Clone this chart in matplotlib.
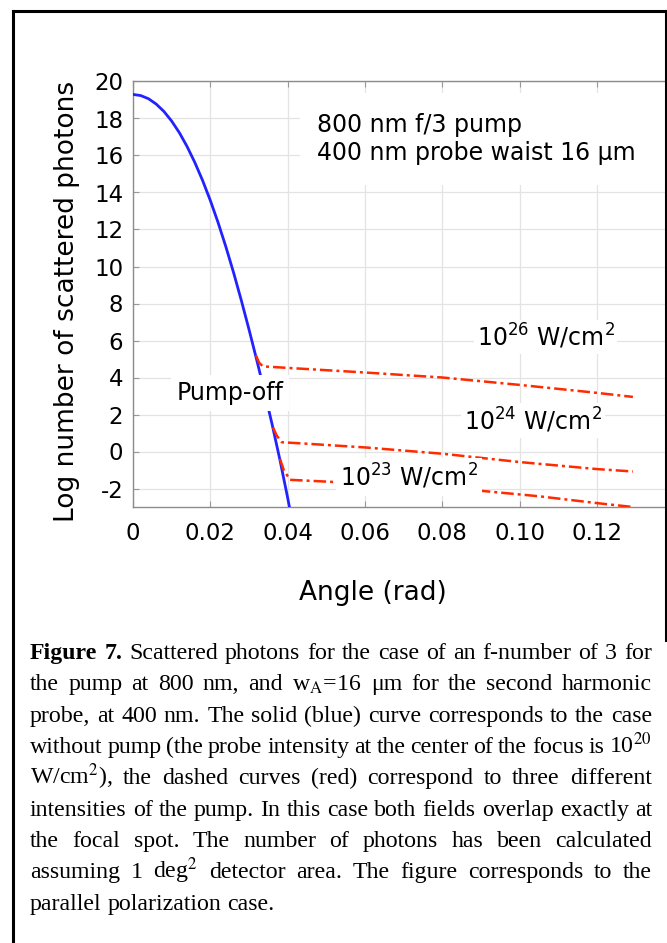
import matplotlib.pyplot as plt
from matplotlib.patches import Rectangle
from matplotlib.lines import Line2D

# blue: no pump
blue_x = [0, 0.002, 0.004, 0.006, 0.008, 0.010, 0.012, 0.014, 0.016, 0.018, 0.020,
          0.022, 0.024, 0.026, 0.028, 0.030, 0.032, 0.034, 0.036, 0.038, 0.040, 0.042]
blue_y = [19.30, 19.24, 19.07, 18.78, 18.38, 17.86, 17.23, 16.48, 15.62, 14.65, 13.57,
          12.38, 11.08, 9.68, 8.18, 6.60, 4.95, 3.24, 1.45, -0.45, -2.50, -4.70]

# red: pump intensities
r26_x = [0.0318, 0.0326, 0.0336, 0.040, 0.060, 0.080, 0.100, 0.120, 0.1293]
r26_y = [5.2, 4.8, 4.6, 4.52, 4.27, 4.0, 3.6, 3.17, 2.95]
r24_x = [0.0362, 0.0372, 0.0385, 0.045, 0.060, 0.080, 0.100, 0.120, 0.1293]
r24_y = [1.3, 0.85, 0.5, 0.42, 0.22, -0.12, -0.57, -0.95, -1.08]
r23_x = [0.0380, 0.0390, 0.0406, 0.0522, 0.070, 0.0898, 0.105, 0.120, 0.1293]
r23_y = [-0.4, -1.0, -1.53, -1.65, -1.85, -2.12, -2.42, -2.79, -3.0]

xticks = [0, 0.02, 0.04, 0.06, 0.08, 0.10, 0.12]
xticklabels = ['0', '0.02', '0.04', '0.06', '0.08', '0.10', '0.12']
yticks = list(range(-2, 21, 2))

caption_lines = [
    "Figure 7. Scattered photons for the case of an f-number of 3 for",
    "the pump at 800 nm, and w$_{\\mathrm{A}}$=16 μm for the second harmonic",
    "probe, at 400 nm. The solid (blue) curve corresponds to the case",
    "without pump (the probe intensity at the center of the focus is 10$^{20}$",
    "W/cm$^{2}$), the dashed curves (red) correspond to three different",
    "intensities of the pump. In this case both fields overlap exactly at",
    "the focal spot. The number of photons has been calculated",
    "assuming 1 deg$^{2}$ detector area. The figure corresponds to the",
    "parallel polarization case.",
]

W, H = 667, 943
fig = plt.figure(figsize=(W / 100, H / 100), dpi=100)
FONT = 'DejaVu Sans'
RED = '#ff2a00'
BLUE = '#2222ff'

ax = fig.add_axes([133 / W, 1 - 507 / H, (693.6 - 133) / W, (507 - 81.5) / H])
ax.set_xlim(0, 0.145)
ax.set_ylim(-3, 20)
ax.set_xticks(xticks)
ax.set_xticklabels(xticklabels, fontsize=16.5, family=FONT)
ax.set_yticks(yticks)
ax.set_yticklabels([str(v) for v in yticks], fontsize=16.5, family=FONT)
ax.tick_params(direction='in', length=4, color='#999999', top=True, pad=7)
ax.tick_params(axis='x', pad=11)
ax.grid(True, color='#e3e3e3', lw=0.9)
ax.set_axisbelow(True)
for s in ax.spines.values():
    s.set_color('#8c8c8c')
    s.set_linewidth(1.0)
ax.spines['right'].set_visible(False)

ax.plot(blue_x, blue_y, color=BLUE, lw=2.0, zorder=3)
dash = (0, (5, 1.6, 1.2, 1.6))
for xs, ys in [(r26_x, r26_y), (r24_x, r24_y), (r23_x, r23_y)]:
    ax.plot(xs, ys, color=RED, lw=1.8, ls=dash, zorder=4)

# white box behind the parameter text
ax.add_patch(Rectangle((0.0432, 14.4), 0.11, 5.0, fc='white', ec='none', zorder=2))
ax.text(0.0475, 17.28, '800 nm f/3 pump', fontsize=17, family=FONT, va='baseline', zorder=5)
ax.text(0.0475, 15.75, '400 nm probe waist 16 μm', fontsize=17, family=FONT, va='baseline', zorder=5)

box = dict(fc='white', ec='none', pad=2)
ax.text(0.0251, 3.17, 'Pump-off', fontsize=17, family=FONT, ha='center', va='center',
        bbox=dict(fc='white', ec='none', pad=4), zorder=5)
ax.text(0.1067, 6.19, '10$^{26}$ W/cm$^{2}$', fontsize=17, family=FONT, ha='center', va='center',
        math_fontfamily='dejavusans', bbox=box, zorder=5)
ax.text(0.1035, 1.66, '10$^{24}$ W/cm$^{2}$', fontsize=17, family=FONT, ha='center', va='center',
        math_fontfamily='dejavusans', bbox=box, zorder=5)
ax.text(0.0714, -1.37, '10$^{23}$ W/cm$^{2}$', fontsize=17, family=FONT, ha='center', va='center',
        math_fontfamily='dejavusans', bbox=dict(fc='white', ec='none', pad=3), zorder=5)

fig.text(66.7 / W, 1 - 301.5 / H, 'Log number of scattered photons', rotation=90,
         fontsize=19, family=FONT, ha='center', va='center')
fig.text(373 / W, 1 - 593 / H, 'Angle (rad)', fontsize=19, family=FONT,
         ha='center', va='center')

# outer frame
lw_frame = 2.2
fig.add_artist(Line2D([13 / W, 13 / W], [0, 1 - 11 / H], color='black', lw=lw_frame))
fig.add_artist(Line2D([13 / W, 666 / W], [1 - 11 / H, 1 - 11 / H], color='black', lw=lw_frame))
fig.add_artist(Line2D([666 / W, 666 / W], [1 - 11 / H, 1 - 640 / H], color='black', lw=lw_frame))

# justified caption
renderer = fig.canvas.get_renderer()
L, R = 30, 652
CAP_SIZE = 17.2
for i, line in enumerate(caption_lines):
    words = line.split(' ')
    yb = 1 - (659 + 31.35 * i) / H
    texts = []
    for j, w in enumerate(words):
        bold = i == 0 and j < 2
        t = fig.text(0, yb, w, fontsize=CAP_SIZE, family='Liberation Serif',
                     weight='bold' if bold else 'normal', math_fontfamily='stix',
                     va='baseline', ha='left')
        texts.append(t)
    widths = [t.get_window_extent(renderer).width for t in texts]
    if i == len(caption_lines) - 1:
        gap = CAP_SIZE * 100 / 72 * 0.25
    else:
        gap = (R - L - sum(widths)) / (len(words) - 1)
    x = L
    for t, wd in zip(texts, widths):
        t.set_x(x / W)
        x += wd + gap

fig.savefig('out.png', dpi=100)
